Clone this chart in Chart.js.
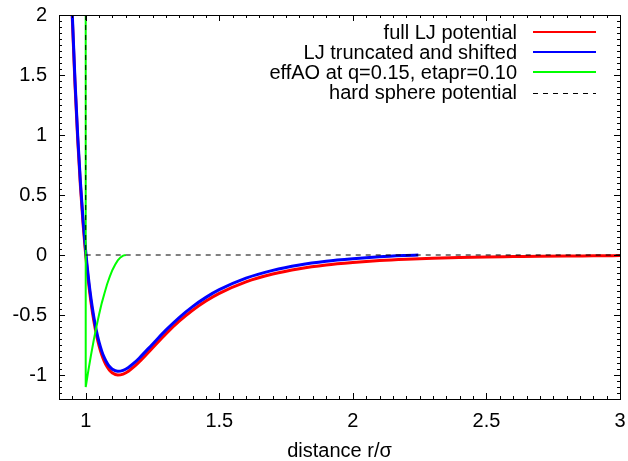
<!DOCTYPE html>
<html>
<head>
<meta charset="utf-8">
<script src="https://cdn.jsdelivr.net/npm/chart.js@4/dist/chart.umd.min.js"></script>
<style>
  html, body { margin: 0; padding: 0; background: #fff; }
  #wrap { width: 628px; height: 461px; }
</style>
</head>
<body>
<div id="wrap"><canvas id="c" width="628" height="461"></canvas></div>
<script>
// ---- data ----
const seriesLabels = [
  "full LJ potential",
  "LJ truncated and shifted",
  "effAO at q=0.15, etapr=0.10",
  "hard sphere potential"
];
const rFull = [0.93, 0.94, 0.95, 0.96, 0.97, 0.98, 0.99, 1.00, 1.01, 1.02, 1.03, 1.04, 1.05, 1.06, 1.07, 1.08, 1.09, 1.10, 1.12, 1.14, 1.16, 1.18, 1.20, 1.25, 1.30, 1.35, 1.40, 1.45, 1.50, 1.60, 1.70, 1.80, 1.90, 2.00, 2.10, 2.20, 2.30, 2.40, 2.50, 2.60, 2.70, 2.80, 2.90, 3.00];
const uFull = [3.373, 2.607, 1.961, 1.418, 0.963, 0.582, 0.264, 0.0, -0.218, -0.398, -0.544, -0.663, -0.758, -0.832, -0.889, -0.932, -0.963, -0.983, -1.000, -0.992, -0.968, -0.933, -0.891, -0.774, -0.657, -0.552, -0.461, -0.384, -0.320, -0.224, -0.159, -0.114, -0.083, -0.062, -0.046, -0.035, -0.027, -0.021, -0.016, -0.013, -0.010, -0.008, -0.007, -0.005];
const rTrunc = [0.93, 0.94, 0.95, 0.96, 0.97, 0.98, 0.99, 1.00, 1.01, 1.02, 1.03, 1.04, 1.05, 1.06, 1.07, 1.08, 1.09, 1.10, 1.12, 1.14, 1.16, 1.18, 1.20, 1.25, 1.30, 1.35, 1.40, 1.45, 1.50, 1.60, 1.70, 1.80, 1.90, 2.00, 2.10, 2.20, 2.245];
const uTrunc = [3.404, 2.638, 1.992, 1.449, 0.994, 0.613, 0.295, 0.031, -0.187, -0.367, -0.513, -0.632, -0.727, -0.801, -0.858, -0.901, -0.932, -0.952, -0.969, -0.961, -0.937, -0.902, -0.860, -0.743, -0.626, -0.521, -0.430, -0.353, -0.289, -0.193, -0.128, -0.083, -0.052, -0.031, -0.015, -0.004, 0.0];
const rAO = [1.00, 1.00, 1.01, 1.02, 1.03, 1.04, 1.05, 1.06, 1.07, 1.08, 1.09, 1.10, 1.11, 1.12, 1.13, 1.14, 1.15];
const uAO = [2.5, -1.100, -0.961, -0.831, -0.710, -0.599, -0.496, -0.401, -0.320, -0.244, -0.181, -0.125, -0.081, -0.045, -0.020, -0.005, 0.0];
const rHS = [1.0, 1.0, 3.0];
const uHS = [2.5, 0.0, 0.0];
const xTickLabels = [1, 1.5, 2, 2.5, 3];
const yTickLabels = [-1, -0.5, 0, 0.5, 1, 1.5, 2];
const xTitle = "distance r/\u03C3";

// ---- build ----
function pts(xs, ys) { return xs.map((x, i) => ({ x: x, y: ys[i] })); }
const FONT = "'Liberation Sans', Arial, Helvetica, sans-serif";

const framePlugin = {
  id: 'frameTicks',
  afterDatasetsDraw(chart) {
    const ctx = chart.ctx, a = chart.chartArea;
    const xs = chart.scales.x, ys = chart.scales.y;
    ctx.save();
    ctx.strokeStyle = '#000';
    ctx.lineWidth = 1;
    ctx.beginPath();
    const xMin = xs.min, xMax = xs.max;
    for (let k = Math.ceil(xMin * 20 - 1e-6); k <= Math.floor(xMax * 20 + 1e-6); k++) {
      const v = k / 20;
      const len = (k % 10 === 0) ? 6 : 3;
      const px = Math.round(xs.getPixelForValue(v)) + 0.5;
      ctx.moveTo(px, a.bottom); ctx.lineTo(px, a.bottom - len);
      ctx.moveTo(px, a.top); ctx.lineTo(px, a.top + len);
    }
    const yMin = ys.min, yMax = ys.max;
    for (let k = Math.ceil(yMin * 20 - 1e-6); k <= Math.floor(yMax * 20 + 1e-6); k++) {
      const v = k / 20;
      const len = (k % 10 === 0) ? 6 : 3;
      const py = Math.round(ys.getPixelForValue(v)) + 0.5;
      ctx.moveTo(a.left, py); ctx.lineTo(a.left + len, py);
      ctx.moveTo(a.right, py); ctx.lineTo(a.right - len, py);
    }
    ctx.stroke();
    ctx.strokeRect(Math.round(a.left) + 0.5, Math.round(a.top) + 0.5,
                   Math.round(a.right - a.left), Math.round(a.bottom - a.top));
    ctx.restore();
  },
  afterDraw(chart) {
    const ctx = chart.ctx, a = chart.chartArea;
    ctx.save();
    ctx.font = '20px ' + FONT;
    ctx.textAlign = 'right';
    ctx.textBaseline = 'middle';
    const textRight = a.right - 103;
    const s0 = a.right - 87, s1 = a.right - 24;
    chart.data.datasets.forEach((ds, i) => {
      const y = a.top + 17 + i * 20.2;
      ctx.fillStyle = '#000';
      ctx.fillText(ds.label, textRight, y + 1);
      ctx.strokeStyle = ds.borderColor;
      ctx.lineWidth = ds.legendWidth;
      ctx.setLineDash(ds.borderDash || []);
      const yy = Math.round(y) + (ds.legendWidth % 2 ? 0.5 : 0);
      ctx.beginPath();
      ctx.moveTo(s0, yy);
      ctx.lineTo(s1, yy);
      ctx.stroke();
    });
    ctx.restore();
  }
};

function noPad(s) { s.paddingLeft = 0; s.paddingRight = 0; s.paddingTop = 0; s.paddingBottom = 0; }

new Chart(document.getElementById('c'), {
  type: 'scatter',
  data: {
    datasets: [
      { label: seriesLabels[0], data: pts(rFull, uFull), showLine: true, borderColor: '#ff0000',
        borderWidth: 3, legendWidth: 2, pointRadius: 0, cubicInterpolationMode: 'monotone', order: 4 },
      { label: seriesLabels[1], data: pts(rTrunc, uTrunc), showLine: true, borderColor: '#0000ff',
        borderWidth: 3, legendWidth: 2, pointRadius: 0, cubicInterpolationMode: 'monotone', order: 3 },
      { label: seriesLabels[2], data: pts(rAO, uAO), showLine: true, borderColor: '#00ff00',
        borderWidth: 2, legendWidth: 2, pointRadius: 0, order: 2 },
      { label: seriesLabels[3], data: pts(rHS, uHS), showLine: true, borderColor: '#000000',
        borderWidth: 1, legendWidth: 1, borderDash: [5, 5], pointRadius: 0, order: 1 }
    ]
  },
  options: {
    responsive: false,
    animation: false,
    events: [],
    layout: { padding: { top: 15, right: 8, left: 0, bottom: 0 } },
    plugins: { legend: { display: false }, tooltip: { enabled: false } },
    scales: {
      x: {
        type: 'linear', min: 0.9, max: 3,
        grid: { display: false, drawTicks: false },
        border: { display: false },
        afterBuildTicks: (s) => { s.ticks = xTickLabels.map(v => ({ value: v })); },
        afterFit: (s) => { s.height = 62; noPad(s); },
        ticks: { color: '#000', font: { family: FONT, size: 20 }, padding: 10, maxRotation: 0,
                 callback: (v) => String(v) },
        title: { display: true, text: xTitle, color: '#000',
                 font: { family: FONT, size: 20, lineHeight: 1 }, padding: 0 }
      },
      y: {
        type: 'linear', min: -1.2, max: 2,
        grid: { display: false, drawTicks: false },
        border: { display: false },
        afterBuildTicks: (s) => { s.ticks = yTickLabels.map(v => ({ value: v })); },
        afterFit: (s) => { s.width = 59; noPad(s); },
        ticks: { color: '#000', font: { family: FONT, size: 20 }, padding: 12,
                 callback: (v) => String(v) }
      }
    }
  },
  plugins: [framePlugin]
});
</script>
</body>
</html>
